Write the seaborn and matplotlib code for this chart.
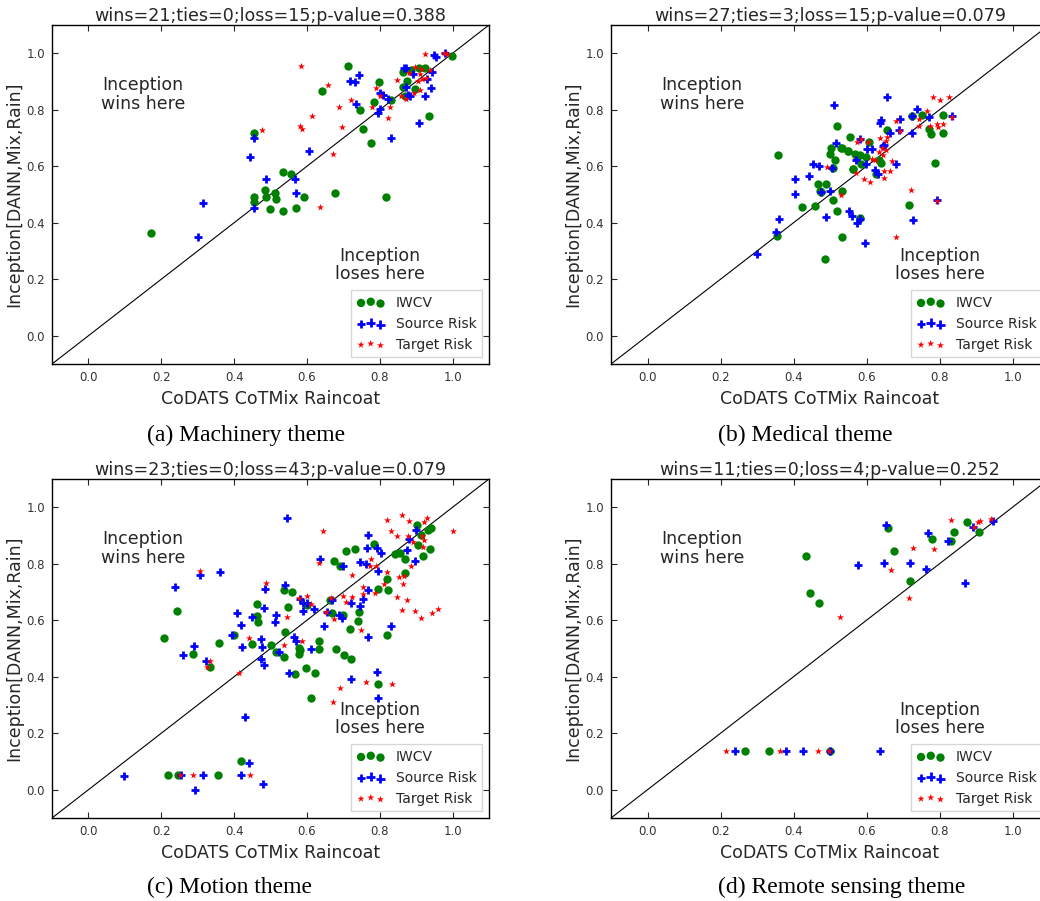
"""
Scatter comparison of Inception vs CoDATS/CoTMix/Raincoat across four themes.
"""

import matplotlib
matplotlib.use("Agg")
import matplotlib.pyplot as plt
import seaborn as sns

# ---- data ----
titles = [
    "wins=21;ties=0;loss=15;p-value=0.388",
    "wins=27;ties=3;loss=15;p-value=0.079",
    "wins=23;ties=0;loss=43;p-value=0.079",
    "wins=11;ties=0;loss=4;p-value=0.252",
]
captions = ["(a) Machinery theme", "(b) Medical theme",
            "(c) Motion theme", "(d) Remote sensing theme"]
tick_values = [0.0, 0.2, 0.4, 0.6, 0.8, 1.0]
method_labels = ["IWCV", "Source Risk", "Target Risk"]

# (a) Machinery
mach_iwcv_x = [0.173, 0.712, 0.641, 0.799, 0.745, 0.783, 0.755, 0.776, 0.935, 0.816, 0.676,
               0.454, 0.454, 0.454, 0.485, 0.489, 0.513, 0.516, 0.498, 0.533, 0.535, 0.556,
               0.570, 0.592, 0.863, 0.874, 0.868, 0.897, 0.907, 0.924, 0.887, 0.999, 0.865,
               0.832]
mach_iwcv_y = [0.365, 0.956, 0.865, 0.897, 0.798, 0.828, 0.733, 0.684, 0.779, 0.492, 0.506,
               0.717, 0.492, 0.472, 0.515, 0.492, 0.505, 0.483, 0.447, 0.579, 0.443, 0.571,
               0.452, 0.491, 0.932, 0.903, 0.847, 0.874, 0.949, 0.949, 0.941, 0.992, 0.880,
               0.835]
mach_src_x = [0.302, 0.316, 0.445, 0.454, 0.456, 0.488, 0.566, 0.571, 0.606, 0.718, 0.732,
              0.742, 0.735, 0.794, 0.802, 0.800, 0.809, 0.823, 0.832, 0.866, 0.873, 0.871,
              0.877, 0.883, 0.891, 0.908, 0.923, 0.929, 0.941, 0.944, 0.949, 0.954, 0.979]
mach_src_y = [0.348, 0.469, 0.634, 0.699, 0.451, 0.554, 0.554, 0.504, 0.655, 0.902, 0.900,
              0.922, 0.821, 0.790, 0.804, 0.861, 0.852, 0.839, 0.701, 0.949, 0.947, 0.880,
              0.852, 0.849, 0.927, 0.754, 0.847, 0.908, 0.878, 0.932, 0.993, 0.988, 1.002]
mach_tgt_x = [0.477, 0.583, 0.581, 0.587, 0.613, 0.635, 0.658, 0.671, 0.688, 0.695, 0.720,
              0.779, 0.791, 0.802, 0.822, 0.828, 0.846, 0.857, 0.872, 0.881, 0.894, 0.896,
              0.905, 0.911, 0.911, 0.917, 0.924, 0.927, 0.938, 0.976, 0.985, 0.914]
mach_tgt_y = [0.728, 0.955, 0.743, 0.733, 0.778, 0.455, 0.889, 0.645, 0.808, 0.738, 0.836,
              0.808, 0.878, 0.847, 0.771, 0.808, 0.906, 0.847, 0.839, 0.929, 0.861, 0.953,
              0.903, 0.870, 0.927, 0.908, 0.997, 0.914, 0.941, 1.000, 0.997, 0.946]

# (b) Medical
med_iwcv_x = [0.358, 0.354, 0.422, 0.460, 0.468, 0.489, 0.472, 0.508, 0.519, 0.533, 0.486,
              0.532, 0.519, 0.500, 0.504, 0.514, 0.507, 0.533, 0.549, 0.554, 0.563, 0.568,
              0.573, 0.582, 0.598, 0.586, 0.607, 0.625, 0.635, 0.639, 0.657, 0.582, 0.717,
              0.726, 0.753, 0.772, 0.776, 0.787, 0.809, 0.810, 0.531, 0.550, 0.562, 0.474]
med_iwcv_y = [0.640, 0.353, 0.455, 0.459, 0.538, 0.538, 0.512, 0.479, 0.440, 0.512, 0.270,
              0.348, 0.744, 0.643, 0.663, 0.622, 0.594, 0.663, 0.654, 0.702, 0.591, 0.645,
              0.634, 0.641, 0.634, 0.609, 0.686, 0.572, 0.622, 0.610, 0.728, 0.416, 0.464,
              0.778, 0.783, 0.731, 0.714, 0.613, 0.783, 0.716, 0.664, 0.655, 0.590, 0.510]
med_src_x = [0.299, 0.351, 0.359, 0.403, 0.405, 0.443, 0.453, 0.471, 0.474, 0.501, 0.488,
             0.506, 0.516, 0.511, 0.553, 0.560, 0.573, 0.582, 0.595, 0.570, 0.581, 0.598,
             0.602, 0.615, 0.623, 0.631, 0.637, 0.639, 0.644, 0.649, 0.655, 0.664, 0.680,
             0.689, 0.693, 0.724, 0.726, 0.728, 0.737, 0.772, 0.794, 0.833]
med_src_y = [0.289, 0.367, 0.414, 0.554, 0.503, 0.564, 0.608, 0.601, 0.509, 0.513, 0.419,
             0.594, 0.684, 0.816, 0.440, 0.424, 0.400, 0.412, 0.330, 0.622, 0.698, 0.608,
             0.661, 0.661, 0.586, 0.571, 0.752, 0.764, 0.670, 0.675, 0.845, 0.717, 0.608,
             0.729, 0.766, 0.717, 0.778, 0.409, 0.804, 0.776, 0.481, 0.778]
med_tgt_x = [0.493, 0.529, 0.570, 0.573, 0.584, 0.593, 0.609, 0.605, 0.624, 0.633, 0.637,
             0.642, 0.646, 0.649, 0.647, 0.653, 0.657, 0.664, 0.669, 0.680, 0.682, 0.693,
             0.721, 0.744, 0.744, 0.766, 0.773, 0.783, 0.792, 0.796, 0.794, 0.801, 0.810,
             0.826, 0.833, 0.616, 0.653]
med_tgt_y = [0.599, 0.499, 0.577, 0.687, 0.695, 0.556, 0.544, 0.687, 0.622, 0.651, 0.700,
             0.665, 0.641, 0.582, 0.558, 0.691, 0.703, 0.582, 0.620, 0.351, 0.760, 0.726,
             0.516, 0.743, 0.766, 0.797, 0.743, 0.844, 0.750, 0.738, 0.478, 0.835, 0.751,
             0.846, 0.776, 0.625, 0.657]

# (c) Motion
mot_iwcv_x = [0.207, 0.244, 0.287, 0.334, 0.358, 0.399, 0.449, 0.462, 0.464, 0.467, 0.500,
              0.514, 0.536, 0.539, 0.537, 0.549, 0.560, 0.578, 0.579, 0.582, 0.567, 0.597,
              0.601, 0.610, 0.622, 0.633, 0.633, 0.663, 0.669, 0.674, 0.680, 0.692, 0.698,
              0.703, 0.707, 0.718, 0.720, 0.731, 0.741, 0.743, 0.784, 0.795, 0.794, 0.819,
              0.821, 0.822, 0.841, 0.855, 0.868, 0.870, 0.901, 0.904, 0.912, 0.920, 0.933,
              0.940, 0.938, 0.219, 0.246, 0.356, 0.418]
mot_iwcv_y = [0.538, 0.633, 0.482, 0.434, 0.521, 0.547, 0.516, 0.615, 0.658, 0.594, 0.511,
              0.488, 0.469, 0.560, 0.706, 0.646, 0.699, 0.503, 0.482, 0.495, 0.411, 0.432,
              0.653, 0.325, 0.412, 0.525, 0.499, 0.672, 0.626, 0.809, 0.498, 0.791, 0.620,
              0.476, 0.844, 0.570, 0.464, 0.852, 0.596, 0.629, 0.871, 0.710, 0.373, 0.547,
              0.745, 0.708, 0.834, 0.839, 0.769, 0.817, 0.936, 0.865, 0.901, 0.828, 0.918,
              0.928, 0.852, 0.051, 0.051, 0.051, 0.102]
mot_src_x = [0.099, 0.239, 0.259, 0.289, 0.306, 0.323, 0.361, 0.394, 0.408, 0.418, 0.423,
             0.448, 0.473, 0.476, 0.475, 0.483, 0.481, 0.484, 0.511, 0.516, 0.524, 0.541,
             0.546, 0.564, 0.571, 0.551, 0.581, 0.588, 0.589, 0.599, 0.610, 0.619, 0.637,
             0.647, 0.654, 0.670, 0.688, 0.697, 0.699, 0.720, 0.720, 0.745, 0.755, 0.747,
             0.761, 0.766, 0.769, 0.769, 0.768, 0.793, 0.795, 0.804, 0.793, 0.795, 0.832,
             0.875, 0.879, 0.897, 0.900, 0.430, 0.253, 0.292, 0.316, 0.420, 0.440, 0.480]
mot_src_y = [0.047, 0.717, 0.476, 0.508, 0.759, 0.457, 0.771, 0.547, 0.627, 0.582, 0.505,
             0.610, 0.535, 0.505, 0.464, 0.440, 0.645, 0.710, 0.594, 0.617, 0.488, 0.726,
             0.962, 0.541, 0.525, 0.414, 0.674, 0.662, 0.634, 0.660, 0.499, 0.640, 0.818,
             0.580, 0.629, 0.671, 0.617, 0.608, 0.792, 0.661, 0.393, 0.651, 0.676, 0.806,
             0.800, 0.854, 0.901, 0.542, 0.706, 0.854, 0.775, 0.838, 0.416, 0.326, 0.579,
             0.848, 0.889, 0.809, 0.921, 0.257, 0.051, 0.000, 0.051, 0.051, 0.096, 0.019]
mot_tgt_x = [0.251, 0.286, 0.443, 0.307, 0.325, 0.334, 0.414, 0.441, 0.489, 0.537, 0.546,
             0.586, 0.579, 0.601, 0.610, 0.632, 0.645, 0.653, 0.667, 0.674, 0.672, 0.690,
             0.700, 0.706, 0.725, 0.725, 0.749, 0.753, 0.755, 0.762, 0.775, 0.773, 0.788,
             0.791, 0.811, 0.819, 0.821, 0.832, 0.834, 0.846, 0.848, 0.853, 0.861, 0.861,
             0.865, 0.874, 0.879, 0.878, 0.886, 0.892, 0.896, 0.914, 0.918, 0.915, 0.921,
             0.921, 0.930, 0.944, 0.960, 1.002, 0.866]
mot_tgt_y = [0.051, 0.051, 0.051, 0.775, 0.433, 0.457, 0.412, 0.538, 0.731, 0.511, 0.612,
             0.525, 0.677, 0.686, 0.658, 0.803, 0.915, 0.629, 0.677, 0.603, 0.309, 0.361,
             0.686, 0.665, 0.682, 0.759, 0.564, 0.718, 0.693, 0.380, 0.816, 0.792, 0.698,
             0.792, 0.728, 0.771, 0.954, 0.915, 0.374, 0.682, 0.898, 0.754, 0.635, 0.972,
             0.728, 0.673, 0.950, 0.898, 0.791, 0.877, 0.631, 0.608, 0.860, 0.897, 0.948,
             0.884, 0.962, 0.626, 0.641, 0.915, 0.757]

# (d) Remote sensing
rs_iwcv_x = [0.266, 0.332, 0.501, 0.435, 0.444, 0.469, 0.658, 0.675, 0.720, 0.779, 0.832,
             0.840, 0.874, 0.907]
rs_iwcv_y = [0.138, 0.138, 0.138, 0.826, 0.698, 0.662, 0.927, 0.844, 0.739, 0.887, 0.880,
             0.913, 0.948, 0.913]
rs_src_x = [0.240, 0.379, 0.426, 0.501, 0.637, 0.577, 0.647, 0.654, 0.720, 0.763, 0.768,
            0.822, 0.870, 0.892, 0.947]
rs_src_y = [0.138, 0.138, 0.138, 0.138, 0.138, 0.795, 0.803, 0.936, 0.804, 0.780, 0.910,
            0.882, 0.731, 0.929, 0.953]
rs_tgt_x = [0.214, 0.364, 0.468, 0.498, 0.528, 0.668, 0.717, 0.728, 0.786, 0.831, 0.894,
            0.905, 0.912, 0.942]
rs_tgt_y = [0.138, 0.138, 0.138, 0.138, 0.612, 0.778, 0.679, 0.854, 0.852, 0.955, 0.931,
            0.948, 0.950, 0.957]

panel_data = [
    [(mach_iwcv_x, mach_iwcv_y), (mach_src_x, mach_src_y), (mach_tgt_x, mach_tgt_y)],
    [(med_iwcv_x, med_iwcv_y), (med_src_x, med_src_y), (med_tgt_x, med_tgt_y)],
    [(mot_iwcv_x, mot_iwcv_y), (mot_src_x, mot_src_y), (mot_tgt_x, mot_tgt_y)],
    [(rs_iwcv_x, rs_iwcv_y), (rs_src_x, rs_src_y), (rs_tgt_x, rs_tgt_y)],
]

# ---- layout (pixels of the 1040x901 canvas) ----
W, H = 1040, 901
axes_px = [(52, 25, 489, 364), (611, 25, 1049, 364),
           (52, 479, 489, 818), (611, 479, 1049, 818)]
caption_px = [(147, 435), (718, 435), (147, 887), (718, 887)]

sns.set_style("ticks")
plt.rcParams["font.family"] = ["DejaVu Sans"]
text_col = "#262626"

fig = plt.figure(figsize=(W / 100, H / 100), dpi=100)

for i, (l, t, r, b) in enumerate(axes_px):
    ax = fig.add_axes([l / W, 1 - b / H, (r - l) / W, (b - t) / H])
    (ix, iy), (sx, sy), (tx, ty) = panel_data[i]

    ax.plot([-0.1, 1.1], [-0.1, 1.1], color="black", lw=0.8, zorder=1)
    sns.scatterplot(x=ix, y=iy, marker="o", color="green", s=36, linewidth=0,
                    label=method_labels[0], ax=ax, zorder=3)
    sns.scatterplot(x=sx, y=sy, marker="+", color="blue", s=40, linewidth=2,
                    label=method_labels[1], ax=ax, zorder=3)
    sns.scatterplot(x=tx, y=ty, marker="*", color="red", s=28, linewidth=0,
                    label=method_labels[2], ax=ax, zorder=3)

    ax.set_xlim(-0.1, 1.1)
    ax.set_ylim(-0.1, 1.1)
    ax.set_xticks(tick_values)
    ax.set_yticks(tick_values)
    ax.tick_params(direction="in", top=True, right=True, length=4, width=0.8,
                   labelsize=8.5, labelcolor="#333333", pad=5)
    for sp in ax.spines.values():
        sp.set_linewidth(1.0)
        sp.set_color("black")

    ax.set_title(titles[i], fontsize=12.6, color=text_col, pad=3)
    ax.set_xlabel("CoDATS CoTMix Raincoat", fontsize=12.5, color=text_col, labelpad=4)
    ax.set_ylabel("Inception[DANN,Mix,Rain]", fontsize=12.5, color=text_col, labelpad=2)

    ax.text(0.15, 0.855, "Inception\nwins here", ha="center", va="center",
            fontsize=12.5, color=text_col, linespacing=1.05)
    ax.text(0.80, 0.25, "Inception\nloses here", ha="center", va="center",
            fontsize=12.5, color=text_col, linespacing=1.05)

    leg = ax.legend(loc="lower right", scatterpoints=3,
                    scatteryoffsets=[0.375, 0.5, 0.3125], fontsize=10,
                    fancybox=False, frameon=True, borderaxespad=0.5)
    leg.get_frame().set_edgecolor("#cccccc")
    leg.get_frame().set_linewidth(1.0)
    for txt in leg.get_texts():
        txt.set_color(text_col)

    fig.text(caption_px[i][0] / W, 1 - caption_px[i][1] / H, captions[i],
             ha="left", va="center", fontsize=17, family="Liberation Serif",
             color="black")

fig.savefig("out.png", dpi=100)
